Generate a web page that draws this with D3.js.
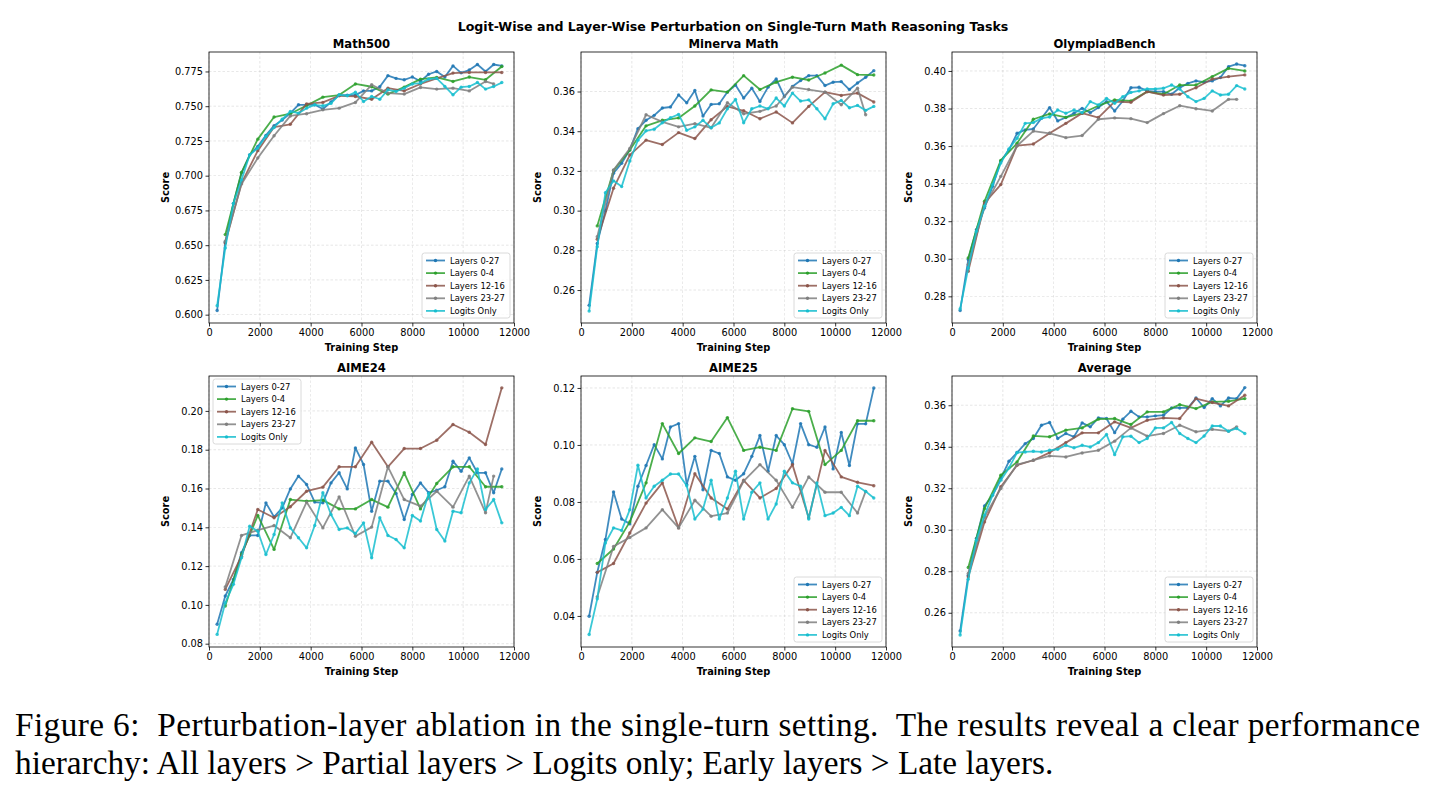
<!DOCTYPE html>
<html>
<head>
<meta charset="utf-8">
<script src="https://cdn.jsdelivr.net/npm/d3@7"></script>
<style>
	body { margin: 0; background: #fff; }
	svg { display: block; font-family: "DejaVu Sans", sans-serif; }
</style>
</head>
<body>
<svg id="fig" width="1435" height="795"></svg>
<script>
// x positions of the evaluations (blue/cyan every 320 steps, the others every 640)
const stepsAll = [320, 640, 960, 1280, 1600, 1920, 2240, 2560, 2880, 3200, 3520, 3840, 4160, 4480, 4800, 5120, 5440, 5760,
	6080, 6400, 6720, 7040, 7360, 7680, 8000, 8320, 8640, 8960, 9280, 9600, 9920, 10240, 10560, 10880, 11200, 11520];
const stepsHalf = [640, 1280, 1920, 2560, 3200, 3840, 4480, 5120, 5760, 6400, 7040, 7680, 8320, 8960, 9600, 10240, 10880, 11520];
const stepsGray = [640, 1280, 1920, 2560, 3200, 3840, 4480, 5120, 5760, 6400, 7040, 7680, 8320, 8960, 9600, 10240, 10880, 11200];

const seriesNames = ["Layers 0-27", "Layers 0-4", "Layers 12-16", "Layers 23-27", "Logits Only"];
const seriesColors = ["#1f77b4", "#2ca02c", "#8c564b", "#7f7f7f", "#17becf"];
const xTicks = [0, 2000, 4000, 6000, 8000, 10000, 12000];

// Math500
const m500_l027 = [0.603, 0.652, 0.680, 0.702, 0.715, 0.721, 0.729, 0.736, 0.740, 0.745, 0.751, 0.751, 0.751, 0.748, 0.753, 0.758, 0.758, 0.758,
	0.761, 0.761, 0.764, 0.772, 0.770, 0.769, 0.771, 0.768, 0.773, 0.775, 0.771, 0.779, 0.774, 0.776, 0.780, 0.775, 0.780, 0.779];
const m500_l04 = [0.6576, 0.7024, 0.7263, 0.7422, 0.7446, 0.7505, 0.7565, 0.758, 0.766, 0.764, 0.7587, 0.7637, 0.7695, 0.7707, 0.7678, 0.771, 0.769, 0.7786];
const m500_l1216 = [0.6516, 0.6947, 0.718, 0.735, 0.737, 0.7517, 0.7527, 0.7575, 0.757, 0.755, 0.763, 0.761, 0.766, 0.770, 0.7738, 0.7743, 0.7743, 0.7743];
const m500_l2327 = [0.6528, 0.694, 0.7127, 0.7287, 0.743, 0.7446, 0.7474, 0.7486, 0.7527, 0.7654, 0.7594, 0.7587, 0.7635, 0.7623, 0.763, 0.761, 0.7678, 0.766];
const m500_logits = [0.6065, 0.648, 0.680, 0.697, 0.715, 0.7199, 0.7283, 0.7347, 0.7407, 0.7462, 0.745, 0.7486, 0.751, 0.7503, 0.752, 0.7582, 0.7575, 0.760,
	0.7534, 0.757, 0.755, 0.7618, 0.7606, 0.763, 0.766, 0.7666, 0.7695, 0.770, 0.7642, 0.7582, 0.7637, 0.7642, 0.767, 0.7623, 0.7642, 0.767];
const m500_ticks = [0.600, 0.625, 0.650, 0.675, 0.700, 0.725, 0.750, 0.775];

// Minerva Math
const min_l027 = [0.2523, 0.2835, 0.300, 0.3188, 0.3239, 0.3306, 0.3413, 0.3455, 0.348, 0.3517, 0.3522, 0.3583, 0.3543, 0.3605, 0.3477, 0.3535, 0.3538, 0.3597,
	0.3633, 0.3567, 0.3617, 0.355, 0.3622, 0.3663, 0.3575, 0.3625, 0.3655, 0.368, 0.368, 0.363, 0.3647, 0.365, 0.361, 0.3643, 0.3672, 0.3705];
const min_l04 = [0.2923, 0.3202, 0.3305, 0.3427, 0.3455, 0.3467, 0.3527, 0.3608, 0.3597, 0.368, 0.361, 0.3647, 0.3672, 0.3658, 0.3693, 0.3733, 0.3685, 0.3683];
const min_l1216 = [0.2856, 0.3113, 0.328, 0.3355, 0.3333, 0.3393, 0.3363, 0.3458, 0.3525, 0.3503, 0.3463, 0.3497, 0.3442, 0.3525, 0.3597, 0.358, 0.3592, 0.3547];
const min_l2327 = [0.2869, 0.3205, 0.3313, 0.3483, 0.3447, 0.3422, 0.3438, 0.3417, 0.3543, 0.3488, 0.35, 0.3527, 0.3622, 0.361, 0.3597, 0.3533, 0.3617, 0.3483];
const min_logits = [0.2494, 0.2818, 0.309, 0.315, 0.3121, 0.325, 0.3355, 0.3402, 0.341, 0.3443, 0.3468, 0.3485, 0.3405, 0.3422, 0.3455, 0.3417, 0.3442, 0.3513,
	0.356, 0.3443, 0.3513, 0.3527, 0.3513, 0.3567, 0.3527, 0.3592, 0.3552, 0.3558, 0.3513, 0.3463, 0.3538, 0.3555, 0.3518, 0.353, 0.3505, 0.3525];
const min_ticks = [0.26, 0.28, 0.30, 0.32, 0.34, 0.36];

// OlympiadBench
const oly_l027 = [0.2724, 0.2996, 0.3155, 0.3271, 0.3386, 0.3519, 0.358, 0.3668, 0.3686, 0.3691, 0.3748, 0.3805, 0.3734, 0.3752, 0.3775, 0.3801, 0.3778, 0.3805,
	0.3837, 0.3787, 0.384, 0.3911, 0.3913, 0.3894, 0.389, 0.389, 0.3876, 0.3911, 0.3934, 0.3947, 0.394, 0.3947, 0.3965, 0.4023, 0.4037, 0.4028];
const oly_l04 = [0.3004, 0.3306, 0.3524, 0.3615, 0.3743, 0.3771, 0.3753, 0.3775, 0.3815, 0.3846, 0.384, 0.389, 0.3876, 0.3925, 0.3925, 0.397, 0.4014, 0.40];
const oly_l1216 = [0.2933, 0.3297, 0.3395, 0.3602, 0.3611, 0.3668, 0.3721, 0.3775, 0.3752, 0.3837, 0.3833, 0.389, 0.3872, 0.3876, 0.3911, 0.3957, 0.397, 0.3979];
const oly_l2327 = [0.2969, 0.328, 0.3439, 0.3602, 0.368, 0.3668, 0.3645, 0.3656, 0.3743, 0.375, 0.3746, 0.3725, 0.3773, 0.3815, 0.3799, 0.3787, 0.3849, 0.3849];
const oly_logits = [0.2733, 0.2951, 0.3146, 0.328, 0.3395, 0.351, 0.3585, 0.3642, 0.3721, 0.3725, 0.3748, 0.3755, 0.3792, 0.3775, 0.3792, 0.3778, 0.3837, 0.3819,
	0.3854, 0.3828, 0.3863, 0.3886, 0.3894, 0.3904, 0.3904, 0.3908, 0.3925, 0.3904, 0.3863, 0.3837, 0.3854, 0.3894, 0.3872, 0.3876, 0.3922, 0.3904];
const oly_ticks = [0.28, 0.30, 0.32, 0.34, 0.36, 0.38, 0.40];

// AIME24
const a24_l027 = [0.090, 0.1046, 0.1131, 0.1269, 0.1358, 0.1358, 0.1526, 0.1454, 0.15, 0.1598, 0.1664, 0.1621, 0.153, 0.1526, 0.1629, 0.1681, 0.1598, 0.1809,
	0.1724, 0.1483, 0.1638, 0.1638, 0.1574, 0.144, 0.1569, 0.1629, 0.1578, 0.1591, 0.1609, 0.1741, 0.1689, 0.1758, 0.1681, 0.1681, 0.1578, 0.1701];
const a24_l04 = [0.0994, 0.126, 0.1461, 0.1286, 0.1543, 0.1535, 0.154, 0.1495, 0.1495, 0.1543, 0.1504, 0.1681, 0.1495, 0.1626, 0.1712, 0.1712, 0.1609, 0.1609];
const a24_l1216 = [0.108, 0.1251, 0.1492, 0.1449, 0.1506, 0.1586, 0.1607, 0.1712, 0.1712, 0.1839, 0.1712, 0.1806, 0.1806, 0.1849, 0.193, 0.189, 0.1827, 0.2119];
const a24_l2327 = [0.1092, 0.1358, 0.1385, 0.1409, 0.1346, 0.153, 0.1397, 0.1557, 0.1354, 0.1401, 0.1712, 0.1543, 0.1509, 0.1586, 0.1504, 0.1664, 0.1475, 0.1664];
const a24_logits = [0.0848, 0.1011, 0.1106, 0.1243, 0.1406, 0.138, 0.126, 0.1363, 0.1526, 0.1397, 0.1346, 0.1294, 0.1409, 0.1578, 0.1466, 0.1389, 0.1397, 0.1368,
	0.1423, 0.1243, 0.1449, 0.1358, 0.1337, 0.1294, 0.1461, 0.1432, 0.1574, 0.1389, 0.1329, 0.1483, 0.1475, 0.1629, 0.1701, 0.1492, 0.1543, 0.1423];
const a24_ticks = [0.08, 0.10, 0.12, 0.14, 0.16, 0.18, 0.20];

// AIME25
const a25_l027 = [0.0399, 0.0553, 0.0668, 0.0835, 0.074, 0.0723, 0.0855, 0.0928, 0.1001, 0.0951, 0.1063, 0.1075, 0.0861, 0.096, 0.0843, 0.0981, 0.097, 0.0888,
	0.0876, 0.0899, 0.096, 0.1033, 0.0908, 0.1033, 0.1001, 0.0934, 0.1075, 0.1001, 0.0992, 0.1063, 0.0916, 0.1044, 0.0928, 0.1074, 0.1074, 0.12];
const a25_l04 = [0.0584, 0.0635, 0.073, 0.0867, 0.1075, 0.097, 0.1025, 0.1012, 0.1096, 0.0981, 0.0992, 0.0981, 0.1127, 0.1118, 0.0931, 0.0981, 0.1085, 0.1085];
const a25_l1216 = [0.0553, 0.0584, 0.0691, 0.0796, 0.0867, 0.0709, 0.0899, 0.0814, 0.0775, 0.0876, 0.0814, 0.0847, 0.0931, 0.0744, 0.0981, 0.0888, 0.0869, 0.0857];
const a25_l2327 = [0.0467, 0.0644, 0.0675, 0.0709, 0.0773, 0.0709, 0.0806, 0.075, 0.0761, 0.0873, 0.0931, 0.0876, 0.0781, 0.0888, 0.0834, 0.0834, 0.0761, 0.0837];
const a25_logits = [0.0335, 0.046, 0.0656, 0.0709, 0.07, 0.0773, 0.0929, 0.0814, 0.0855, 0.0876, 0.0898, 0.0898, 0.0857, 0.074, 0.0775, 0.0876, 0.074, 0.0814,
	0.0908, 0.074, 0.0834, 0.0867, 0.074, 0.0793, 0.0908, 0.0867, 0.0855, 0.074, 0.0867, 0.0752, 0.0761, 0.0781, 0.0752, 0.0855, 0.0837, 0.0814];
const a25_ticks = [0.04, 0.06, 0.08, 0.10, 0.12];

// Average
const avg_l027 = [0.2512, 0.2781, 0.2958, 0.3115, 0.3167, 0.3247, 0.333, 0.3372, 0.3415, 0.344, 0.3504, 0.3517, 0.344, 0.3464, 0.3448, 0.3515, 0.3496, 0.3539,
	0.3536, 0.3468, 0.3533, 0.3571, 0.3544, 0.3544, 0.3549, 0.3552, 0.3587, 0.3587, 0.3587, 0.3635, 0.3589, 0.3632, 0.3597, 0.3635, 0.3632, 0.3685];
const avg_l04 = [0.2818, 0.3102, 0.3263, 0.3327, 0.3452, 0.3448, 0.348, 0.3491, 0.3533, 0.3536, 0.3507, 0.3568, 0.3568, 0.3603, 0.3584, 0.3616, 0.3619, 0.3632];
const avg_l1216 = [0.2773, 0.3038, 0.3207, 0.3311, 0.3335, 0.3372, 0.342, 0.3467, 0.3467, 0.352, 0.3491, 0.3528, 0.3539, 0.3536, 0.3632, 0.3613, 0.3597, 0.3648];
const avg_l2327 = [0.2789, 0.3062, 0.3199, 0.3314, 0.3335, 0.3356, 0.3351, 0.337, 0.3383, 0.3427, 0.3491, 0.3451, 0.3464, 0.3504, 0.3472, 0.3484, 0.3475, 0.3496];
const avg_logits = [0.2493, 0.2762, 0.295, 0.307, 0.3167, 0.3239, 0.3298, 0.3372, 0.3375, 0.3378, 0.3375, 0.3383, 0.3388, 0.3407, 0.3395, 0.3407, 0.3399, 0.342,
	0.3459, 0.3362, 0.3448, 0.3451, 0.342, 0.344, 0.3491, 0.3491, 0.3517, 0.3464, 0.344, 0.342, 0.3452, 0.35, 0.35, 0.3475, 0.3488, 0.3464];
const avg_ticks = [0.26, 0.28, 0.30, 0.32, 0.34, 0.36];

const captionLine1 = "Figure 6:  Perturbation-layer ablation in the single-turn setting.  The results reveal a clear performance";
const captionLine2 = "hierarchy: All layers > Partial layers > Logits only; Early layers > Late layers.";

/**
 * Layout
 */
const colLefts = [209, 581, 952];
const rowTops = [52, 376];
const axW = 305, axH = 271;

const panels = [
	{ title: "Math500", ys: [m500_l027, m500_l04, m500_l1216, m500_l2327, m500_logits], ticks: m500_ticks, fmt: ".3f", domain: [0.594, 0.789], legend: "lr" },
	{ title: "Minerva Math", ys: [min_l027, min_l04, min_l1216, min_l2327, min_logits], ticks: min_ticks, fmt: ".2f", domain: [0.2434, 0.3799], legend: "lr" },
	{ title: "OlympiadBench", ys: [oly_l027, oly_l04, oly_l1216, oly_l2327, oly_logits], ticks: oly_ticks, fmt: ".2f", domain: [0.2658, 0.4101], legend: "lr" },
	{ title: "AIME24", ys: [a24_l027, a24_l04, a24_l1216, a24_l2327, a24_logits], ticks: a24_ticks, fmt: ".2f", domain: [0.0783, 0.218], legend: "ul" },
	{ title: "AIME25", ys: [a25_l027, a25_l04, a25_l1216, a25_l2327, a25_logits], ticks: a25_ticks, fmt: ".2f", domain: [0.0291, 0.1242], legend: "lr" },
	{ title: "Average", ys: [avg_l027, avg_l04, avg_l1216, avg_l2327, avg_logits], ticks: avg_ticks, fmt: ".2f", domain: [0.2435, 0.3741], legend: "lr" }
];
const seriesSteps = [stepsAll, stepsHalf, stepsHalf, stepsGray, stepsAll];

const svg = d3.select("#fig");

svg.append("text")
	.attr("x", 733).attr("y", 31)
	.attr("text-anchor", "middle")
	.style("font-weight", "bold").style("font-size", "12.6px")
	.text("Logit-Wise and Layer-Wise Perturbation on Single-Turn Math Reasoning Tasks");

panels.forEach((p, i) => {
	const left = colLefts[i % 3], top = rowTops[Math.floor(i / 3)];
	const g = svg.append("g").attr("transform", `translate(${left}, ${top})`);
	const x = d3.scaleLinear().domain([0, 12000]).range([0, axW]);
	const y = d3.scaleLinear().domain(p.domain).range([axH, 0]);

	// grid
	g.append("g").selectAll("line").data(xTicks).enter().append("line")
		.attr("x1", d => x(d)).attr("x2", d => x(d)).attr("y1", 0).attr("y2", axH)
		.attr("stroke", "#b0b0b0").attr("stroke-width", 0.6).attr("stroke-dasharray", "2.5,2").attr("opacity", 0.5);
	g.append("g").selectAll("line").data(p.ticks).enter().append("line")
		.attr("y1", d => y(d)).attr("y2", d => y(d)).attr("x1", 0).attr("x2", axW)
		.attr("stroke", "#b0b0b0").attr("stroke-width", 0.6).attr("stroke-dasharray", "2.5,2").attr("opacity", 0.5);

	// axes
	const xAxis = g.append("g").attr("transform", `translate(0, ${axH})`)
		.call(d3.axisBottom(x).tickValues(xTicks).tickFormat(d3.format("d")).tickSizeInner(3.5).tickSizeOuter(0).tickPadding(2.5));
	const yAxis = g.append("g")
		.call(d3.axisLeft(y).tickValues(p.ticks).tickFormat(d3.format(p.fmt)).tickSizeInner(3.5).tickSizeOuter(0).tickPadding(2.5));
	[xAxis, yAxis].forEach(a => {
		a.select(".domain").remove();
		a.selectAll("line").attr("stroke", "#000").attr("stroke-width", 0.8);
		a.selectAll("text").style("font-size", "9.8px").attr("fill", "#000").style("font-family", "DejaVu Sans");
	});

	// lines and markers
	p.ys.forEach((vals, s) => {
		const pts = vals.map((v, j) => ({ step: seriesSteps[s][j], value: v }));
		g.append("path")
			.datum(pts)
			.attr("fill", "none")
			.attr("stroke", seriesColors[s]).attr("stroke-width", 1.8).attr("opacity", 0.85)
			.attr("stroke-linejoin", "round")
			.attr("d", d3.line().x(d => x(d.step)).y(d => y(d.value)));
		g.append("g").selectAll("circle").data(pts).enter().append("circle")
			.attr("cx", d => x(d.step)).attr("cy", d => y(d.value)).attr("r", 1.7)
			.attr("fill", seriesColors[s]).attr("opacity", 0.85);
	});

	// frame
	g.append("rect").attr("width", axW).attr("height", axH)
		.attr("fill", "none").attr("stroke", "#000").attr("stroke-width", 0.8);

	// titles
	g.append("text").attr("x", axW / 2).attr("y", -4).attr("text-anchor", "middle")
		.style("font-weight", "bold").style("font-size", "11.6px").text(p.title);
	g.append("text").attr("x", axW / 2).attr("y", axH + 28).attr("text-anchor", "middle")
		.style("font-weight", "bold").style("font-size", "9.8px").text("Training Step");
	g.append("text").attr("transform", `translate(${-40}, ${axH / 2}) rotate(-90)`).attr("text-anchor", "middle")
		.style("font-weight", "bold").style("font-size", "9.8px").text("Score");

	// legend
	const lw = 88, lh = 65;
	const lx = p.legend === "lr" ? axW - lw - 4 : 4;
	const ly = p.legend === "lr" ? axH - lh - 5 : 3;
	const lg = g.append("g").attr("transform", `translate(${lx}, ${ly})`);
	lg.append("rect").attr("width", lw).attr("height", lh).attr("rx", 2.5)
		.attr("fill", "#fff").attr("fill-opacity", 0.8).attr("stroke", "#d0d0d0").attr("stroke-width", 0.8);
	seriesNames.forEach((name, s) => {
		const cy = 7.5 + s * 12.6;
		lg.append("line").attr("x1", 4).attr("x2", 23).attr("y1", cy).attr("y2", cy)
			.attr("stroke", seriesColors[s]).attr("stroke-width", 1.8).attr("opacity", 0.85);
		lg.append("circle").attr("cx", 13.5).attr("cy", cy).attr("r", 1.7).attr("fill", seriesColors[s]);
		lg.append("text").attr("x", 28).attr("y", cy + 3).style("font-size", "8.4px").text(name);
	});
});

// caption, sized so the last line spans like the original, first line justified
const cap2 = svg.append("text").attr("x", 15).attr("y", 774)
	.style("font-family", "'Liberation Serif', serif").style("font-size", "28px").text(captionLine2);
const fitSize = 28 * 1039 / cap2.node().getComputedTextLength();
cap2.style("font-size", `${fitSize}px`);
svg.append("text").attr("x", 15).attr("y", 736)
	.style("font-family", "'Liberation Serif', serif").style("font-size", `${fitSize}px`)
	.attr("textLength", 1405).attr("lengthAdjust", "spacing")
	.style("white-space", "pre")
	.text(captionLine1);
</script>
</body>
</html>
